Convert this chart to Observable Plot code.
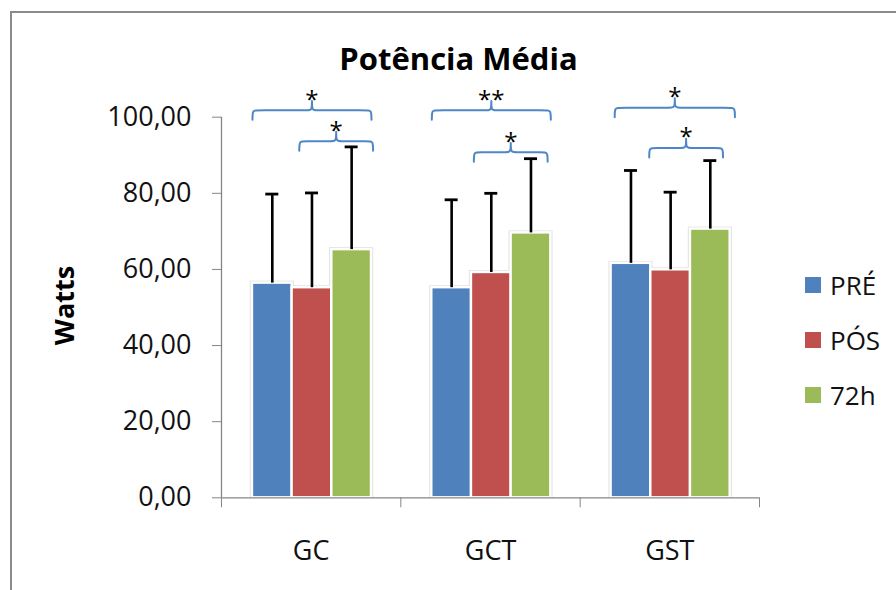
<!DOCTYPE html>
<html><head><meta charset="utf-8">
<script src="https://cdn.jsdelivr.net/npm/d3@7"></script>
<script src="https://cdn.jsdelivr.net/npm/@observablehq/plot@0.6"></script>
<style>
html,body{margin:0;padding:0;background:#fff;width:896px;height:590px;overflow:hidden;font-family:"Open Sans",sans-serif;}
#wrap{position:relative;width:896px;height:590px;}
#frame{position:absolute;left:10px;top:11px;width:1000px;height:1000px;border-left:2px solid #8a8a8a;border-top:2px solid #8a8a8a;}
#chart{position:absolute;left:0;top:0;}
#legend{position:absolute;left:805px;top:0;}
.item{position:absolute;left:0;display:flex;align-items:center;white-space:nowrap;font-size:26px;color:#111;height:36px;}
.sw{width:16px;height:16px;margin-right:9px;}
</style></head><body>
<div id="wrap"><div id="frame"></div><div id="chart"></div><div id="legend"></div></div>
<script>
// ---- data ----
const title = "Potência Média";
const yLabel = "Watts";
const groups = ["GC", "GCT", "GST"];
const seriesNames = ["PRÉ", "PÓS", "72h"];
const seriesColors = ["#4F81BD", "#C0504D", "#9BBB59"];
const meanPre = [56.4, 55.2, 61.6];
const meanPos = [55.2, 59.2, 59.9];
const mean72h = [65.2, 69.6, 70.6];
const upperPre = [79.8, 78.3, 86.0];
const upperPos = [80.1, 80.0, 80.3];
const upper72h = [92.2, 89.1, 88.6];
const yTicks = [0, 20, 40, 60, 80, 100];
// significance brackets: group, span in bar units (0 = left of first bar, 3 = right of last), level, label
const bracketGroup = ["GC", "GC", "GCT", "GCT", "GST", "GST"];
const bracketFrom = [0, 1.18, 0, 1.06, 0.09, 0.96];
const bracketTo = [3, 3.04, 3, 2.92, 3.12, 2.82];
const bracketLevel = [101.8, 93.7, 101.8, 90.8, 102.5, 91.9];
const bracketLabel = ["*", "*", "**", "*", "*", "*"];

// ---- layout helpers ----
const groupPad = 0.1727, barW = 0.2212;
const pxX = 179.33, pxY = 3.806;
const means = [meanPre, meanPos, mean72h];
const uppers = [upperPre, upperPos, upper72h];

const bars = groups.flatMap((g, i) => seriesNames.map((s, j) => {
  const x1 = i + groupPad + j * barW;
  return {group: g, series: s, value: means[j][i], upper: uppers[j][i], x1, x2: x1 + barW, xc: x1 + barW / 2};
}));
const capHalf = 6.5 / pxX;

const brackets = bracketGroup.map((g, k) => {
  const i = groups.indexOf(g);
  const xa = i + groupPad + bracketFrom[k] * barW;
  const xb = i + groupPad + bracketTo[k] * barW;
  const xm = (xa + xb) / 2;
  const yl = bracketLevel[k];
  return {id: k, xa, xb, xm, yl, ylow: yl - 2.5, tip: yl + 2.45, label: bracketLabel[k]};
});
const rx = 4 / pxX;
const bracketPts = brackets.flatMap(b => [
  [b.xa, b.ylow], [b.xa, b.ylow], [b.xa, b.yl], [b.xa + rx, b.yl],
  [b.xm - rx, b.yl], [b.xm, b.yl], [b.xm, b.tip], [b.xm, b.tip], [b.xm, b.tip], [b.xm, b.yl], [b.xm + rx, b.yl],
  [b.xb - rx, b.yl], [b.xb, b.yl], [b.xb, b.ylow], [b.xb, b.ylow]
].map(([x, y]) => ({id: b.id, x, y})));

const fmt = d => d.toFixed(2).replace(".", ",");

const chart = Plot.plot({
  width: 896, height: 590,
  marginLeft: 221, marginRight: 137, marginTop: 116.7, marginBottom: 92.7,
  x: {domain: [0, 3], axis: null},
  y: {domain: [0, 100], axis: null},
  color: {domain: seriesNames, range: seriesColors},
  style: {fontFamily: "Open Sans", background: "transparent", overflow: "visible"},
  marks: [
    Plot.rect(bars, {x1: "x1", x2: "x2", y1: 0, y2: "value", fill: "#e2e2e2", insetLeft: -2.2, insetRight: -2.2, insetTop: -2}),
    Plot.rect(bars, {x1: "x1", x2: "x2", y1: 0, y2: "value", fill: "series", stroke: "white", strokeWidth: 2.4}),
    Plot.ruleX(bars, {x: "xc", y1: "value", y2: "upper", stroke: "black", strokeWidth: 2.6}),
    Plot.ruleY(bars, {y: "upper", x1: d => d.xc - capHalf, x2: d => d.xc + capHalf, stroke: "black", strokeWidth: 2.8}),
    Plot.ruleY([0], {x1: 0, x2: 3, stroke: "#868686", strokeWidth: 1.3}),
    Plot.ruleX([0], {y1: 0, y2: 100, stroke: "#868686", strokeWidth: 1.3}),
    Plot.axisY({ticks: yTicks, tickSize: 9, tickPadding: 21, tickFormat: fmt, fontSize: 27, stroke: "#868686", fill: "#111", label: null}),
    Plot.axisX({ticks: [0, 1, 2, 3], tickSize: 10, tickFormat: () => "", stroke: "#868686", label: null}),
    Plot.axisX({ticks: [0.5, 1.5, 2.5], tickSize: 0, tickPadding: 43, tickFormat: d => groups[Math.floor(d)], fontSize: 27, fill: "#111", label: null}),
    Plot.line(bracketPts, {x: "x", y: "y", z: "id", curve: "basis", stroke: "#4f86c6", strokeWidth: 2}),
    Plot.text(brackets, {x: "xm", y: "tip", text: "label", fontSize: 24, dy: -1, fill: "#000"}),
    Plot.text([title], {text: d => d, frameAnchor: "top", dx: -32, dy: -69, fontSize: 31, fontWeight: "bold", fill: "#000"}),
    Plot.text([yLabel], {text: d => d, frameAnchor: "left", textAnchor: "middle", rotate: -90, dx: -156, dy: -2, fontSize: 27, fontWeight: "bold", fill: "#000"})
  ]
});
document.getElementById("chart").appendChild(chart);

// legend
const legendCenters = [285, 340, 395];
const legend = document.getElementById("legend");
seriesNames.forEach((s, j) => {
  const item = document.createElement("div");
  item.className = "item";
  item.style.top = (legendCenters[j] - 18) + "px";
  const sw = document.createElement("div");
  sw.className = "sw";
  sw.style.background = seriesColors[j];
  const t = document.createElement("span");
  t.textContent = s;
  item.appendChild(sw); item.appendChild(t);
  legend.appendChild(item);
});
</script>
</body></html>
